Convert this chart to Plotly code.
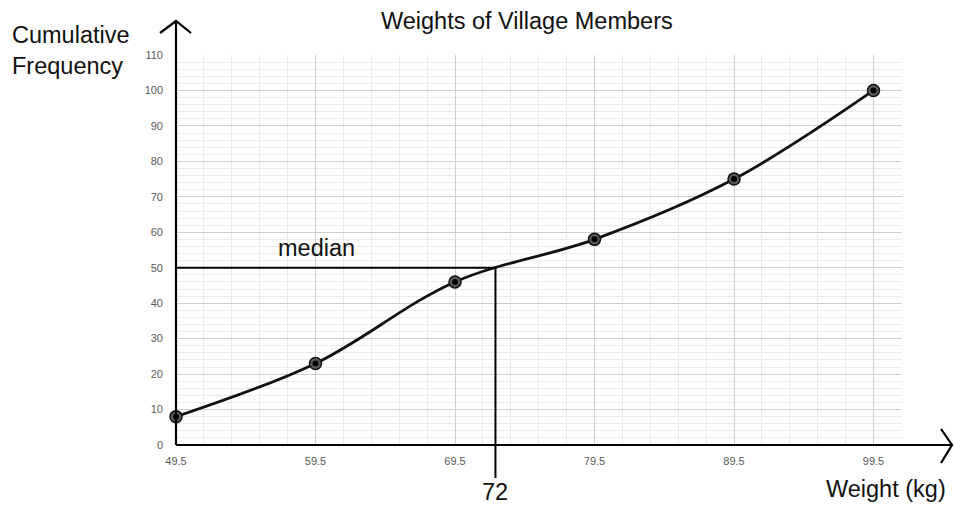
import plotly.graph_objects as go

# ---- data ----
weights = [49.5, 59.5, 69.5, 79.5, 89.5, 99.5]
cum_freq = [8, 23, 46, 58, 75, 100]
x_ticks = [49.5, 59.5, 69.5, 79.5, 89.5, 99.5]
y_ticks = [0, 10, 20, 30, 40, 50, 60, 70, 80, 90, 100, 110]
median_y = 50
median_x = 72.4
median_label = "72"

# ---- layout geometry (pixels) ----
W, H = 954, 507
L, R, T, B = 176, 902, 55, 445  # plot area in pixels


def px(xp):
    return (xp - L) / (R - L)


def py(yp):
    return (B - yp) / (B - T)


fig = go.Figure()

fig.add_trace(go.Scatter(
    x=weights, y=cum_freq, mode="lines",
    line=dict(color="#111111", width=2.8, shape="spline", smoothing=1),
    hoverinfo="skip", showlegend=False, cliponaxis=False,
))
fig.add_trace(go.Scatter(
    x=weights, y=cum_freq, mode="markers",
    marker=dict(symbol="circle", size=12, color="#5a5a5a", line=dict(width=1.5, color="#111111")),
    showlegend=False, cliponaxis=False,
))
fig.add_trace(go.Scatter(
    x=weights, y=cum_freq, mode="markers",
    marker=dict(symbol="circle", size=6, color="#000000"),
    showlegend=False, cliponaxis=False,
))

shapes = []
# median horizontal line
shapes.append(dict(type="line", xref="x", yref="y", x0=weights[0], x1=median_x,
                   y0=median_y, y1=median_y, line=dict(color="#000000", width=2), layer="above"))
# median vertical line extending below the x axis
shapes.append(dict(type="line", xref="x", yref="paper", x0=median_x, x1=median_x,
                   y0=py(478), y1=median_y / y_ticks[-1], line=dict(color="#000000", width=2), layer="above"))
# y axis with arrow
shapes.append(dict(type="line", xref="paper", yref="paper", x0=0, x1=0, y0=0, y1=py(21),
                   line=dict(color="#000000", width=2.2), layer="above"))
shapes.append(dict(type="path", xref="paper", yref="paper",
                   path=f"M {px(160)} {py(33)} L {px(176)} {py(21)} L {px(191)} {py(33)}",
                   line=dict(color="#000000", width=2.2), layer="above"))
# x axis with arrow
shapes.append(dict(type="line", xref="paper", yref="paper", x0=0, x1=px(951), y0=0, y1=0,
                   line=dict(color="#000000", width=2.2), layer="above"))
shapes.append(dict(type="path", xref="paper", yref="paper",
                   path=f"M {px(941)} {py(429)} L {px(952)} {py(445)} L {px(941)} {py(463)}",
                   line=dict(color="#000000", width=2.2), layer="above"))

font_main = "Liberation Sans, Arial, sans-serif"
big = 23.5
annotations = [
    dict(text="Weights of Village Members", x=px(527), y=py(21), xref="paper", yref="paper",
         showarrow=False, xanchor="center", yanchor="middle", font=dict(size=big, color="#111111", family=font_main)),
    dict(text="Cumulative", x=px(10), y=py(35), xref="paper", yref="paper",
         showarrow=False, xanchor="left", yanchor="middle", font=dict(size=big, color="#111111", family=font_main)),
    dict(text="Frequency", x=px(10), y=py(66), xref="paper", yref="paper",
         showarrow=False, xanchor="left", yanchor="middle", font=dict(size=big, color="#111111", family=font_main)),
    dict(text="median", x=px(316), y=py(248), xref="paper", yref="paper",
         showarrow=False, xanchor="center", yanchor="middle", font=dict(size=big, color="#111111", family=font_main)),
    dict(text=median_label, x=median_x, y=py(492), xref="x", yref="paper",
         showarrow=False, xanchor="center", yanchor="middle", font=dict(size=big, color="#111111", family=font_main)),
    dict(text="Weight (kg)", x=px(886), y=py(489), xref="paper", yref="paper",
         showarrow=False, xanchor="center", yanchor="middle", font=dict(size=big, color="#111111", family=font_main)),
]

x_max = weights[0] + (R - L) / (139.5 / 10)
tick_font = dict(size=11, color="#595959", family="Liberation Sans, Arial, sans-serif")
fig.update_layout(
    width=W, height=H,
    margin=dict(l=L, r=W - R, t=T, b=H - B, pad=0),
    plot_bgcolor="white", paper_bgcolor="white",
    showlegend=False,
    shapes=shapes, annotations=annotations,
    xaxis=dict(
        range=[weights[0], x_max], tickmode="array", tickvals=x_ticks,
        ticktext=[str(v) for v in x_ticks],
        showgrid=True, gridcolor="#d0d0d0", gridwidth=1,
        minor=dict(tick0=weights[0], dtick=2, showgrid=True, gridcolor="#ebebeb", gridwidth=1),
        zeroline=False, showline=False, ticks="", ticklabelstandoff=8,
        tickfont=tick_font, fixedrange=True,
    ),
    yaxis=dict(
        range=[y_ticks[0], y_ticks[-1]], tickmode="array", tickvals=y_ticks,
        showgrid=True, gridcolor="#d0d0d0", gridwidth=1,
        minor=dict(tick0=0, dtick=2, showgrid=True, gridcolor="#ebebeb", gridwidth=1),
        zeroline=False, showline=False, ticks="", ticklabelstandoff=12,
        tickfont=tick_font, fixedrange=True,
    ),
)

fig.write_html("out.html", config={"displayModeBar": False, "staticPlot": True},
               post_script="document.body.style.margin='0';document.body.style.overflow='hidden';")
